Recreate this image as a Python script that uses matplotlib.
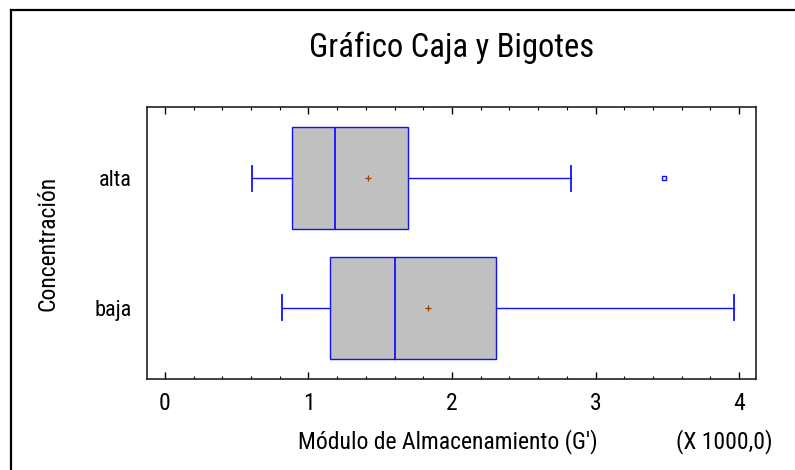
import matplotlib
matplotlib.use("Agg")
import matplotlib.pyplot as plt
from matplotlib import font_manager
from matplotlib.lines import Line2D

# ---- data (in units of 1000) ----
categories = ["baja", "alta"]
whisker_low = [0.815, 0.604]
q1 = [1.152, 0.883]
medians = [1.603, 1.185]
q3 = [2.307, 1.696]
whisker_high = [3.963, 2.829]
means = [1.835, 1.417]
outliers = [[], [3.477]]
x_ticks = [0, 1, 2, 3, 4]
x_tick_labels = ["0", "1", "2", "3", "4"]

names = {f.name for f in font_manager.fontManager.ttflist}
fam = "Roboto"
stretch = "normal"
for cand in ["Liberation Sans Narrow", "Arial Narrow", "Roboto Condensed"]:
    if cand in names:
        fam = cand
        break
else:
    if any(f.name == "Roboto" and f.stretch == "condensed" for f in font_manager.fontManager.ttflist):
        stretch = "condensed"
plt.rcParams["font.family"] = [fam, "DejaVu Sans"]
plt.rcParams["font.stretch"] = stretch

fig = plt.figure(figsize=(7.95, 4.70), dpi=100)
ax = fig.add_axes([147 / 795, 1 - 379 / 470, (756 - 147) / 795, (379 - 107) / 470])

stats = []
for i, c in enumerate(categories):
    stats.append(dict(label=c, whislo=whisker_low[i], q1=q1[i], med=medians[i],
                      q3=q3[i], whishi=whisker_high[i], mean=means[i],
                      fliers=outliers[i]))

blue = "#1010ff"
ax.bxp(stats, positions=[1, 2], vert=False, widths=0.79, capwidths=0.19,
       showmeans=True, showfliers=True, patch_artist=True,
       boxprops=dict(facecolor="#c0c0c0", edgecolor=blue, linewidth=1.0),
       medianprops=dict(color=blue, linewidth=1.3),
       whiskerprops=dict(color=blue, linewidth=1.0),
       capprops=dict(color=blue, linewidth=1.3),
       meanprops=dict(marker="+", markeredgecolor="#a04000", markersize=4,
                      markeredgewidth=0.9, linestyle="none"),
       flierprops=dict(marker="s", markerfacecolor="none", markeredgecolor=blue,
                       markersize=3.5, markeredgewidth=1.0, linestyle="none"))

ax.set_xlim(-0.125, 4.118)
ax.set_ylim(0.45, 2.55)
ax.set_xticks(x_ticks)
ax.set_xticklabels(x_tick_labels, fontsize=17)
ax.set_xticks([t / 5 for t in range(0, 21) if t % 5 != 0], minor=True)
ax.tick_params(axis="x", which="major", direction="in", length=5, width=1.0,
               top=True, bottom=True, pad=9, colors="black")
ax.tick_params(axis="x", which="minor", direction="in", length=2.5, width=0.8,
               top=True, bottom=True)
ax.tick_params(axis="y", which="both", length=0, pad=11, labelsize=16)
for s in ax.spines.values():
    s.set_linewidth(1.2)
    s.set_color("#222222")

ax.set_xlabel("Módulo de Almacenamiento (G')", fontsize=17)
ax.xaxis.label.set_va("center")
ax.xaxis.set_label_coords((447.5 - 147) / 609, (379 - 441.7) / 272)
ax.set_ylabel("Concentración", fontsize=17)
ax.yaxis.label.set_va("center")
ax.yaxis.set_label_coords((48 - 147) / 609, 0.5)

fig.text(452 / 795, 1 - 48 / 470, "Gráfico Caja y Bigotes", ha="center",
         va="center", fontsize=23.5)
fig.text(724 / 795, 1 - 441.7 / 470, "(X 1000,0)", ha="center", va="center",
         fontsize=17)

# outer frame (left and top visible; right/bottom beyond the image)
fig.add_artist(Line2D([11 / 795, 11 / 795], [0, 1 - 10 / 470], transform=fig.transFigure,
                      color="black", linewidth=1.6))
fig.add_artist(Line2D([11 / 795, 1], [1 - 10 / 470, 1 - 10 / 470], transform=fig.transFigure,
                      color="black", linewidth=1.6))

fig.savefig("out.png", dpi=100)
